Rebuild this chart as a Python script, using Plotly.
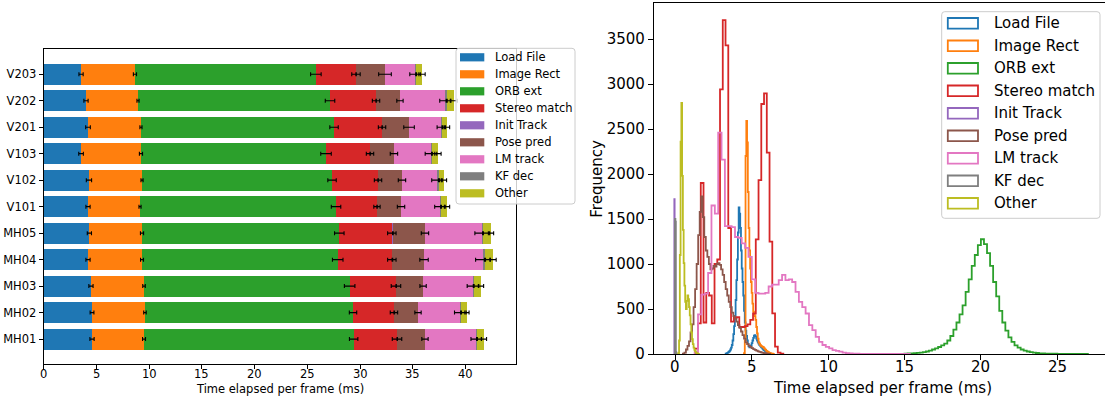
import numpy as np
import plotly.graph_objects as go

W, H = 1105, 399

# ---------------- per-sequence timing breakdown (ms per frame) ----------------
SEQUENCES = ["MH01", "MH02", "MH03", "MH04", "MH05",
             "V101", "V102", "V103", "V201", "V202", "V203"]
STAGES = ["Load File", "Image Rect", "ORB ext", "Stereo match", "Init Track",
          "Pose pred", "LM track", "KF dec", "Other"]
COLORS = ["#1f77b4", "#ff7f0e", "#2ca02c", "#d62728", "#9467bd",
          "#8c564b", "#e377c2", "#7f7f7f", "#bcbd22"]
BAR_TICKS = [0, 5, 10, 15, 20, 25, 30, 35, 40]
HIST_XTICKS = [0, 5, 10, 15, 20, 25]
HIST_YTICKS = [0, 500, 1000, 1500, 2000, 2500, 3000, 3500]

load_file_ms    = [4.58, 4.58, 4.48, 4.20, 4.33, 4.20, 4.29, 3.54, 4.20, 4.01, 3.54]
image_rect_ms   = [4.93, 5.02, 5.03, 5.12, 4.99, 4.93, 5.03, 5.68, 5.02, 4.93, 5.11]
orb_ext_ms      = [19.87, 19.72, 19.49, 18.55, 18.70, 18.58, 18.01, 17.54, 18.30, 18.20, 17.15]
stereo_match_ms = [4.11, 3.88, 4.39, 5.13, 4.98, 3.88, 4.36, 4.17, 4.55, 4.36, 3.80]
init_track_ms   = [0.02, 0.02, 0.02, 0.05, 0.10, 0.01, 0.01, 0.01, 0.01, 0.01, 0.01]
pose_pred_ms    = [2.63, 2.26, 2.55, 3.00, 3.04, 2.27, 2.26, 2.26, 2.55, 2.26, 2.74]
lm_track_ms     = [4.86, 4.01, 4.73, 5.59, 5.43, 3.69, 3.32, 3.51, 3.06, 4.27, 2.85]
kf_dec_ms       = [0.07, 0.07, 0.07, 0.19, 0.07, 0.10, 0.19, 0.09, 0.11, 0.16, 0.10]
other_ms        = [0.66, 0.56, 0.69, 0.76, 0.76, 0.57, 0.47, 0.57, 0.43, 0.70, 0.56]

load_file_std    = [0.20, 0.18, 0.20, 0.20, 0.20, 0.20, 0.25, 0.22, 0.22, 0.20, 0.20]
image_rect_std   = [0.14, 0.12, 0.12, 0.14, 0.15, 0.10, 0.10, 0.15, 0.10, 0.10, 0.15]
orb_ext_std      = [0.40, 0.35, 0.50, 0.50, 0.45, 0.45, 0.40, 0.50, 0.40, 0.45, 0.50]
stereo_match_std = [0.45, 0.35, 0.45, 0.40, 0.40, 0.30, 0.35, 0.35, 0.35, 0.35, 0.40]
init_track_std   = [0.02, 0.02, 0.02, 0.03, 0.03, 0.02, 0.02, 0.02, 0.02, 0.02, 0.02]
pose_pred_std    = [0.30, 0.30, 0.30, 0.40, 0.35, 0.35, 0.35, 0.35, 0.50, 0.30, 0.60]
lm_track_std     = [0.50, 0.55, 0.55, 0.70, 0.70, 0.50, 0.50, 0.55, 0.40, 0.50, 0.50]
kf_dec_std       = [0.04, 0.04, 0.04, 0.05, 0.04, 0.04, 0.05, 0.04, 0.04, 0.05, 0.04]
other_std        = [0.25, 0.20, 0.25, 0.30, 0.25, 0.25, 0.25, 0.30, 0.25, 0.30, 0.30]

# ---------------- per-frame timing histograms (bin start, bin width, counts) ----------------
load_file_bins = (3.30, 0.05, [5, 8, 12, 18, 25, 35, 50, 70, 100, 150, 220, 310, 420, 600, 820,
                               1050, 1350, 1630, 1560, 1400, 1150, 950, 800, 650, 480, 350, 260,
                               200, 150, 110, 85, 75, 80, 95, 120, 150, 180, 205, 210, 195, 170,
                               150, 130, 115, 100, 90, 80, 70, 60, 50, 42, 35, 28, 22, 16, 12, 8,
                               5, 3, 2])
image_rect_bins = (4.50, 0.05, [10, 150, 2200, 2590, 2350, 1800, 1400, 1150, 950, 800, 680, 560,
                                470, 440, 420, 380, 300, 230, 170, 130, 115, 100, 90, 85, 80, 75,
                                65, 55, 45, 35, 28, 22, 17, 13, 10, 7, 5, 3, 2])
orb_ext_bins = (15.0, 0.2, [5, 6, 8, 10, 12, 15, 20, 28, 38, 50, 62, 78, 95, 115, 150, 200, 270,
                            350, 440, 540, 690, 830, 980, 1100, 1210, 1275, 1220, 1120, 980, 800,
                            640, 480, 350, 260, 185, 135, 95, 70, 50, 38, 28, 20, 15, 11, 8, 6,
                            5, 4, 3, 3, 2, 2, 2, 1, 1, 1, 1, 1, 1, 1])
stereo_match_bins = (1.31, 0.18, [60, 340, 1900, 350, 680, 650, 340, 1000, 1050, 2940, 3710, 3430,
                                  1400, 360, 400, 410, 300, 300, 310, 330, 380, 450, 1274, 1933,
                                  2778, 2897, 2237, 1248, 452, 81, 15, 3])
init_track_bins = (-0.06, 0.02, [1720, 30, 4])
pose_pred_bins = (0.5, 0.1, [5, 15, 50, 90, 140, 240, 330, 520, 720, 1000, 1320, 1580, 1750, 1520,
                             1300, 1150, 1080, 1000, 940, 950, 980, 970, 1000, 1010, 990, 940, 880,
                             800, 720, 650, 580, 520, 460, 420, 390, 360, 320, 290, 250, 210, 170,
                             130, 110, 90, 78, 66, 55, 45, 37, 30, 24, 18, 13, 9, 6, 4, 2])
lm_track_bins = (1.27, 0.22, [20, 440, 660, 670, 900, 1650, 1560, 2460, 2160, 1420, 1420, 1410,
                              1300, 1290, 1230, 1180, 1080, 830, 680, 670, 670, 680, 750, 770, 770,
                              820, 880, 820, 830, 800, 690, 580, 520, 450, 320, 265, 190, 135, 100,
                              80, 62, 44, 35, 26, 15, 10, 6, 4, 3, 2, 2, 2, 1, 1, 1, 1, 1, 1, 1,
                              1, 1, 1, 1, 1])
kf_dec_bins = (-0.02, 0.03, [1500, 1470, 20, 3])
other_bins = (0.20, 0.05, [10, 150, 1100, 2360, 2790, 1980, 1380, 1010, 760, 580, 500, 590, 650,
                           610, 520, 430, 330, 240, 165, 110, 70, 45, 28, 16, 9, 5, 2])

MEANS = [load_file_ms, image_rect_ms, orb_ext_ms, stereo_match_ms, init_track_ms,
         pose_pred_ms, lm_track_ms, kf_dec_ms, other_ms]
STDS = [load_file_std, image_rect_std, orb_ext_std, stereo_match_std, init_track_std,
        pose_pred_std, lm_track_std, kf_dec_std, other_std]
HISTS = [load_file_bins, image_rect_bins, orb_ext_bins, stereo_match_bins, init_track_bins,
         pose_pred_bins, lm_track_bins, kf_dec_bins, other_bins]

FONT = "DejaVu Sans"


def fx(x):
    return x / W


def fy(y):
    return 1 - y / H


fig = go.Figure()

# ---------------- stacked horizontal bars ----------------
rows = list(range(len(SEQUENCES)))
for name, color, vals in zip(STAGES, COLORS, MEANS):
    fig.add_trace(go.Bar(
        x=vals, y=rows, orientation="h", name=name, width=0.8,
        marker=dict(color=color, line=dict(width=0)),
        xaxis="x", yaxis="y", showlegend=False, hoverinfo="skip"))

ends = np.cumsum(np.array(MEANS), axis=0)
for end, std in zip(ends, STDS):
    fig.add_trace(go.Scatter(
        x=end, y=rows, mode="markers",
        marker=dict(size=1, color="rgba(0,0,0,0)"),
        error_x=dict(type="data", array=std, color="black", thickness=1.1, width=2),
        xaxis="x", yaxis="y", showlegend=False, hoverinfo="skip"))

# ---------------- step histograms ----------------
for name, color, (start, width, counts) in zip(STAGES, COLORS, HISTS):
    edges = start + width * np.arange(len(counts) + 1)
    xs = np.concatenate([[edges[0]], edges[:-1], [edges[-1]]])
    ys = np.concatenate([[0], counts, [0]])
    fig.add_trace(go.Scatter(
        x=xs, y=ys, mode="lines", line=dict(color=color, width=1.8, shape="hv"),
        name=name, xaxis="x2", yaxis="y2", showlegend=False, hoverinfo="skip"))

# ---------------- legends ----------------
shapes = []
annotations = []


def rounded_box(x0, y0, x1, y1, r):
    pts = [
        f"M{fx(x0 + r)},{fy(y0)}", f"L{fx(x1 - r)},{fy(y0)}",
        f"Q{fx(x1)},{fy(y0)} {fx(x1)},{fy(y0 + r)}", f"L{fx(x1)},{fy(y1 - r)}",
        f"Q{fx(x1)},{fy(y1)} {fx(x1 - r)},{fy(y1)}", f"L{fx(x0 + r)},{fy(y1)}",
        f"Q{fx(x0)},{fy(y1)} {fx(x0)},{fy(y1 - r)}", f"L{fx(x0)},{fy(y0 + r)}",
        f"Q{fx(x0)},{fy(y0)} {fx(x0 + r)},{fy(y0)}", "Z",
    ]
    return dict(type="path", path=" ".join(pts), xref="paper", yref="paper",
                fillcolor="rgba(255,255,255,0.8)", line=dict(color="#cccccc", width=1),
                layer="above")


# bar chart legend (filled patches)
shapes.append(rounded_box(456, 48.3, 575, 204, 3))
for i, (name, color) in enumerate(zip(STAGES, COLORS)):
    yc = 57.3 + 17 * i
    shapes.append(dict(type="rect", xref="paper", yref="paper",
                       x0=fx(460), x1=fx(484.3), y0=fy(yc - 4.1), y1=fy(yc + 4.1),
                       fillcolor=color, line=dict(width=0), layer="above"))
    annotations.append(dict(x=fx(493.3), y=fy(yc), xref="paper", yref="paper",
                            text=name, showarrow=False, xanchor="left", yanchor="middle",
                            font=dict(family=FONT, size=11.5, color="black")))

# histogram legend (outlined patches)
shapes.append(rounded_box(941.7, 11.7, 1100, 218.3, 3))
for i, (name, color) in enumerate(zip(STAGES, COLORS)):
    yc = 23.3 + 22.5 * i
    shapes.append(dict(type="rect", xref="paper", yref="paper",
                       x0=fx(947.8), x1=fx(978), y0=fy(yc - 5.3), y1=fy(yc + 5.3),
                       fillcolor="rgba(0,0,0,0)", line=dict(color=color, width=1.8),
                       layer="above"))
    annotations.append(dict(x=fx(991.7), y=fy(yc), xref="paper", yref="paper",
                            text=name, showarrow=False, xanchor="left", yanchor="middle",
                            font=dict(family=FONT, size=15, color="black")))

# x tick labels, set close under each axis
for t in BAR_TICKS:
    annotations.append(dict(x=t, y=fy(373.5), xref="x", yref="paper",
                            text=str(t), showarrow=False, xanchor="center", yanchor="middle",
                            font=dict(family=FONT, size=11.5, color="black")))
for t in HIST_XTICKS:
    annotations.append(dict(x=t, y=fy(366.5), xref="x2", yref="paper",
                            text=str(t), showarrow=False, xanchor="center", yanchor="middle",
                            font=dict(family=FONT, size=15, color="black")))

# axis titles
annotations.append(dict(x=fx(280), y=fy(388.5), xref="paper", yref="paper",
                        text="Time elapsed per frame (ms)", showarrow=False,
                        xanchor="center", yanchor="middle",
                        font=dict(family=FONT, size=11.5, color="black")))
annotations.append(dict(x=fx(882), y=fy(387.5), xref="paper", yref="paper",
                        text="Time elapsed per frame (ms)", showarrow=False,
                        xanchor="center", yanchor="middle",
                        font=dict(family=FONT, size=15, color="black")))
annotations.append(dict(x=fx(597), y=fy(178.7), xref="paper", yref="paper",
                        text="Frequency", showarrow=False, textangle=-90,
                        xanchor="center", yanchor="middle",
                        font=dict(family=FONT, size=15, color="black")))

axis_common = dict(showgrid=False, zeroline=False, showline=True, linecolor="black",
                   ticks="outside", tickcolor="black", automargin=False)

fig.update_layout(
    width=W, height=H,
    margin=dict(l=0, r=0, t=0, b=0),
    paper_bgcolor="white", plot_bgcolor="white",
    barmode="stack", showlegend=False,
    font=dict(family=FONT, color="black"),
    xaxis=dict(domain=[fx(43.7), fx(515.7)], range=[0, 44.74], anchor="y",
               tickvals=BAR_TICKS, showticklabels=False, mirror=True, linewidth=1,
               ticklen=4, tickwidth=1, **axis_common),
    yaxis=dict(domain=[fy(364), fy(49.3)], range=[-0.94, 10.94], anchor="x",
               tickvals=rows, ticktext=SEQUENCES, mirror=True, linewidth=1,
               ticklen=4, tickwidth=1, tickfont=dict(family=FONT, size=11.5), **axis_common),
    xaxis2=dict(domain=[fx(654), 1.0], range=[-1.39, 28.12], anchor="y2",
                tickvals=HIST_XTICKS, showticklabels=False, mirror=True, linewidth=1.2,
                ticklen=5, tickwidth=1.2, **axis_common),
    yaxis2=dict(domain=[fy(354), fy(3.3)], range=[0, 3897], anchor="x2",
                tickvals=HIST_YTICKS, linewidth=1.2,
                ticklen=5, tickwidth=1.2, tickfont=dict(family=FONT, size=15), **axis_common),
    shapes=shapes,
    annotations=annotations,
)

fig.write_html("out.html")
